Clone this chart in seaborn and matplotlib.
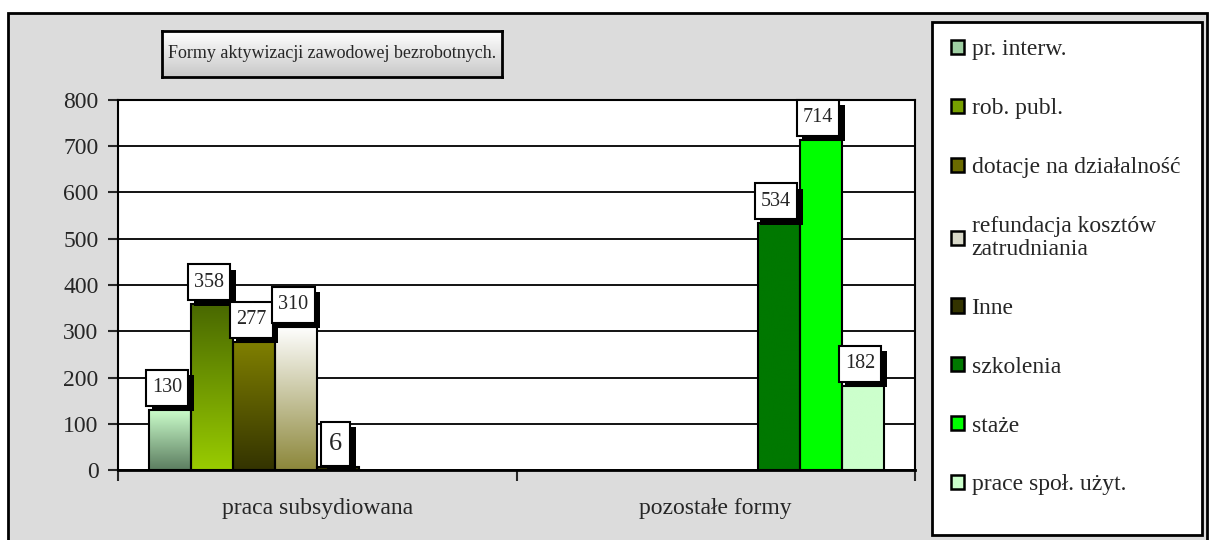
import numpy as np
import pandas as pd
import matplotlib
matplotlib.use("Agg")
from matplotlib import pyplot as plt
from matplotlib import patheffects as pe
from matplotlib.colors import LinearSegmentedColormap
from matplotlib.patches import Rectangle
import seaborn as sns

# data
grupy = ["praca subsydiowana", "pozostałe formy"]
formy = ["pr. interw.", "rob. publ.", "dotacje na działalność",
         "refundacja kosztów\nzatrudniania", "Inne",
         "szkolenia", "staże", "prace społ. użyt."]
grupa_formy = ["praca subsydiowana"] * 5 + ["pozostałe formy"] * 3
liczba = [130, 358, 277, 310, 6, 534, 714, 182]

# gradient colours (top, bottom) for each series
kolory = [("#CCFFCC", "#5C7D60"), ("#496800", "#99CC00"), ("#808000", "#333300"),
          ("#FFFFFF", "#8C873A"), ("#333300", "#333300"), ("#007800", "#007800"),
          ("#00FF00", "#00FF00"), ("#CCFFCC", "#CCFFCC")]
legend_kolory = ["#9FCFA3", "#77A000", "#6B6B00", "#D8D8C8", "#333300",
                 "#007800", "#00FF00", "#CCFFCC"]

df = pd.DataFrame({"grupa": grupa_formy, "forma": formy, "liczba": liczba})

sns.set_style("white")
plt.rcParams["font.family"] = ["Liberation Serif", "DejaVu Serif"]

fig = plt.figure(figsize=(12.09, 5.4), dpi=100)
fig.patch.set_facecolor("white")
fig.patches.append(Rectangle((8 / 1209, -0.01), 1199 / 1209, 1 - 13 / 540 + 0.01,
                             transform=fig.transFigure, facecolor="#DCDCDC",
                             edgecolor="black", linewidth=2, zorder=-10))

ax = fig.add_axes([118 / 1209, 70 / 540, 797 / 1209, 370 / 540])
ax.set_facecolor("white")
sns.barplot(data=df, x="grupa", y="liczba", hue="forma", order=grupy,
            hue_order=formy, width=0.844, palette=legend_kolory, saturation=1,
            edgecolor="black", linewidth=1.5, legend=False, ax=ax, zorder=2)

# gradient fill inside bars + data labels with a shadow
grad = np.linspace(0, 1, 256).reshape(-1, 1)
shadow = [pe.withSimplePatchShadow(offset=(4, -4), shadow_rgbFace="black", alpha=1)]
for i, cont in enumerate(ax.containers):
    cmap = LinearSegmentedColormap.from_list("g%d" % i, list(kolory[i]))
    for bar in cont:
        x0, y0 = bar.get_xy()
        w, h = bar.get_width(), bar.get_height()
        im = ax.imshow(grad, extent=[x0, x0 + w, y0, y0 + h], origin="upper",
                       cmap=cmap, aspect="auto", zorder=1.9, interpolation="bilinear")
        im.set_clip_path(bar)
        bar.set_facecolor("none")
        v = bar.get_height()
        fs = 19 if v < 10 else 14.5
        t = ax.annotate("%d" % v, xy=(x0 + w / 2, v), xytext=(-2, 9),
                        textcoords="offset points", ha="center", va="bottom",
                        fontsize=fs, zorder=5,
                        bbox=dict(boxstyle="square,pad=0.3", mutation_aspect=1.4,
                                  fc="white", ec="black", lw=1.5))
        t.get_bbox_patch().set_path_effects(shadow)

ax.set_xlim(-0.5, 1.5)
ax.set_ylim(0, 800)
ax.set_yticks(range(0, 801, 100))
ax.set_xlabel("")
ax.set_ylabel("")
ax.set_axisbelow(True)
ax.yaxis.grid(True, color="black", linewidth=1.3)
for s in ax.spines.values():
    s.set_color("black")
    s.set_linewidth(1.5)
ax.spines["bottom"].set_linewidth(2)
ax.tick_params(axis="y", length=7, width=1.5, direction="out", left=True,
               labelsize=17, pad=7)
ax.tick_params(axis="x", which="major", length=0, labelsize=17, pad=20)
ax.set_xticks([-0.5, 0.5, 1.5], minor=True)
ax.tick_params(axis="x", which="minor", length=8, width=1.5, direction="out", bottom=True)

# title box with a light gradient
tax = fig.add_axes([162 / 1209, (540 - 77) / 540, 340 / 1209, 46 / 540])
tax.imshow(np.linspace(0, 1, 64).reshape(-1, 1), aspect="auto",
           cmap=LinearSegmentedColormap.from_list("t", ["#FFFFFF", "#C8C8C8"]),
           extent=[0, 1, 0, 1], origin="upper")
tax.set_xticks([])
tax.set_yticks([])
for s in tax.spines.values():
    s.set_linewidth(2)
    s.set_color("black")
tax.text(0.5, 0.5, "Formy aktywizacji zawodowej bezrobotnych.", ha="center",
         va="center", fontsize=13, transform=tax.transAxes)

# legend box
fig.patches.append(Rectangle((932 / 1209, 5 / 540), 270 / 1209, 513 / 540,
                             transform=fig.transFigure, facecolor="white",
                             edgecolor="black", linewidth=2, zorder=-5))
handles = [Rectangle((0, 0), 1, 1, facecolor=c, edgecolor="black", linewidth=1.8)
           for c in legend_kolory]
leg = fig.legend(handles, formy, loc="upper left", bbox_to_anchor=(942 / 1209, 1 - 30 / 540),
                 frameon=False, fontsize=17, handlelength=0.55, handleheight=0.55,
                 handletextpad=0.3, labelspacing=1.6, borderaxespad=0)
for t in leg.get_texts():
    t.set_linespacing(1.15)

fig.savefig("out.png", dpi=100)
